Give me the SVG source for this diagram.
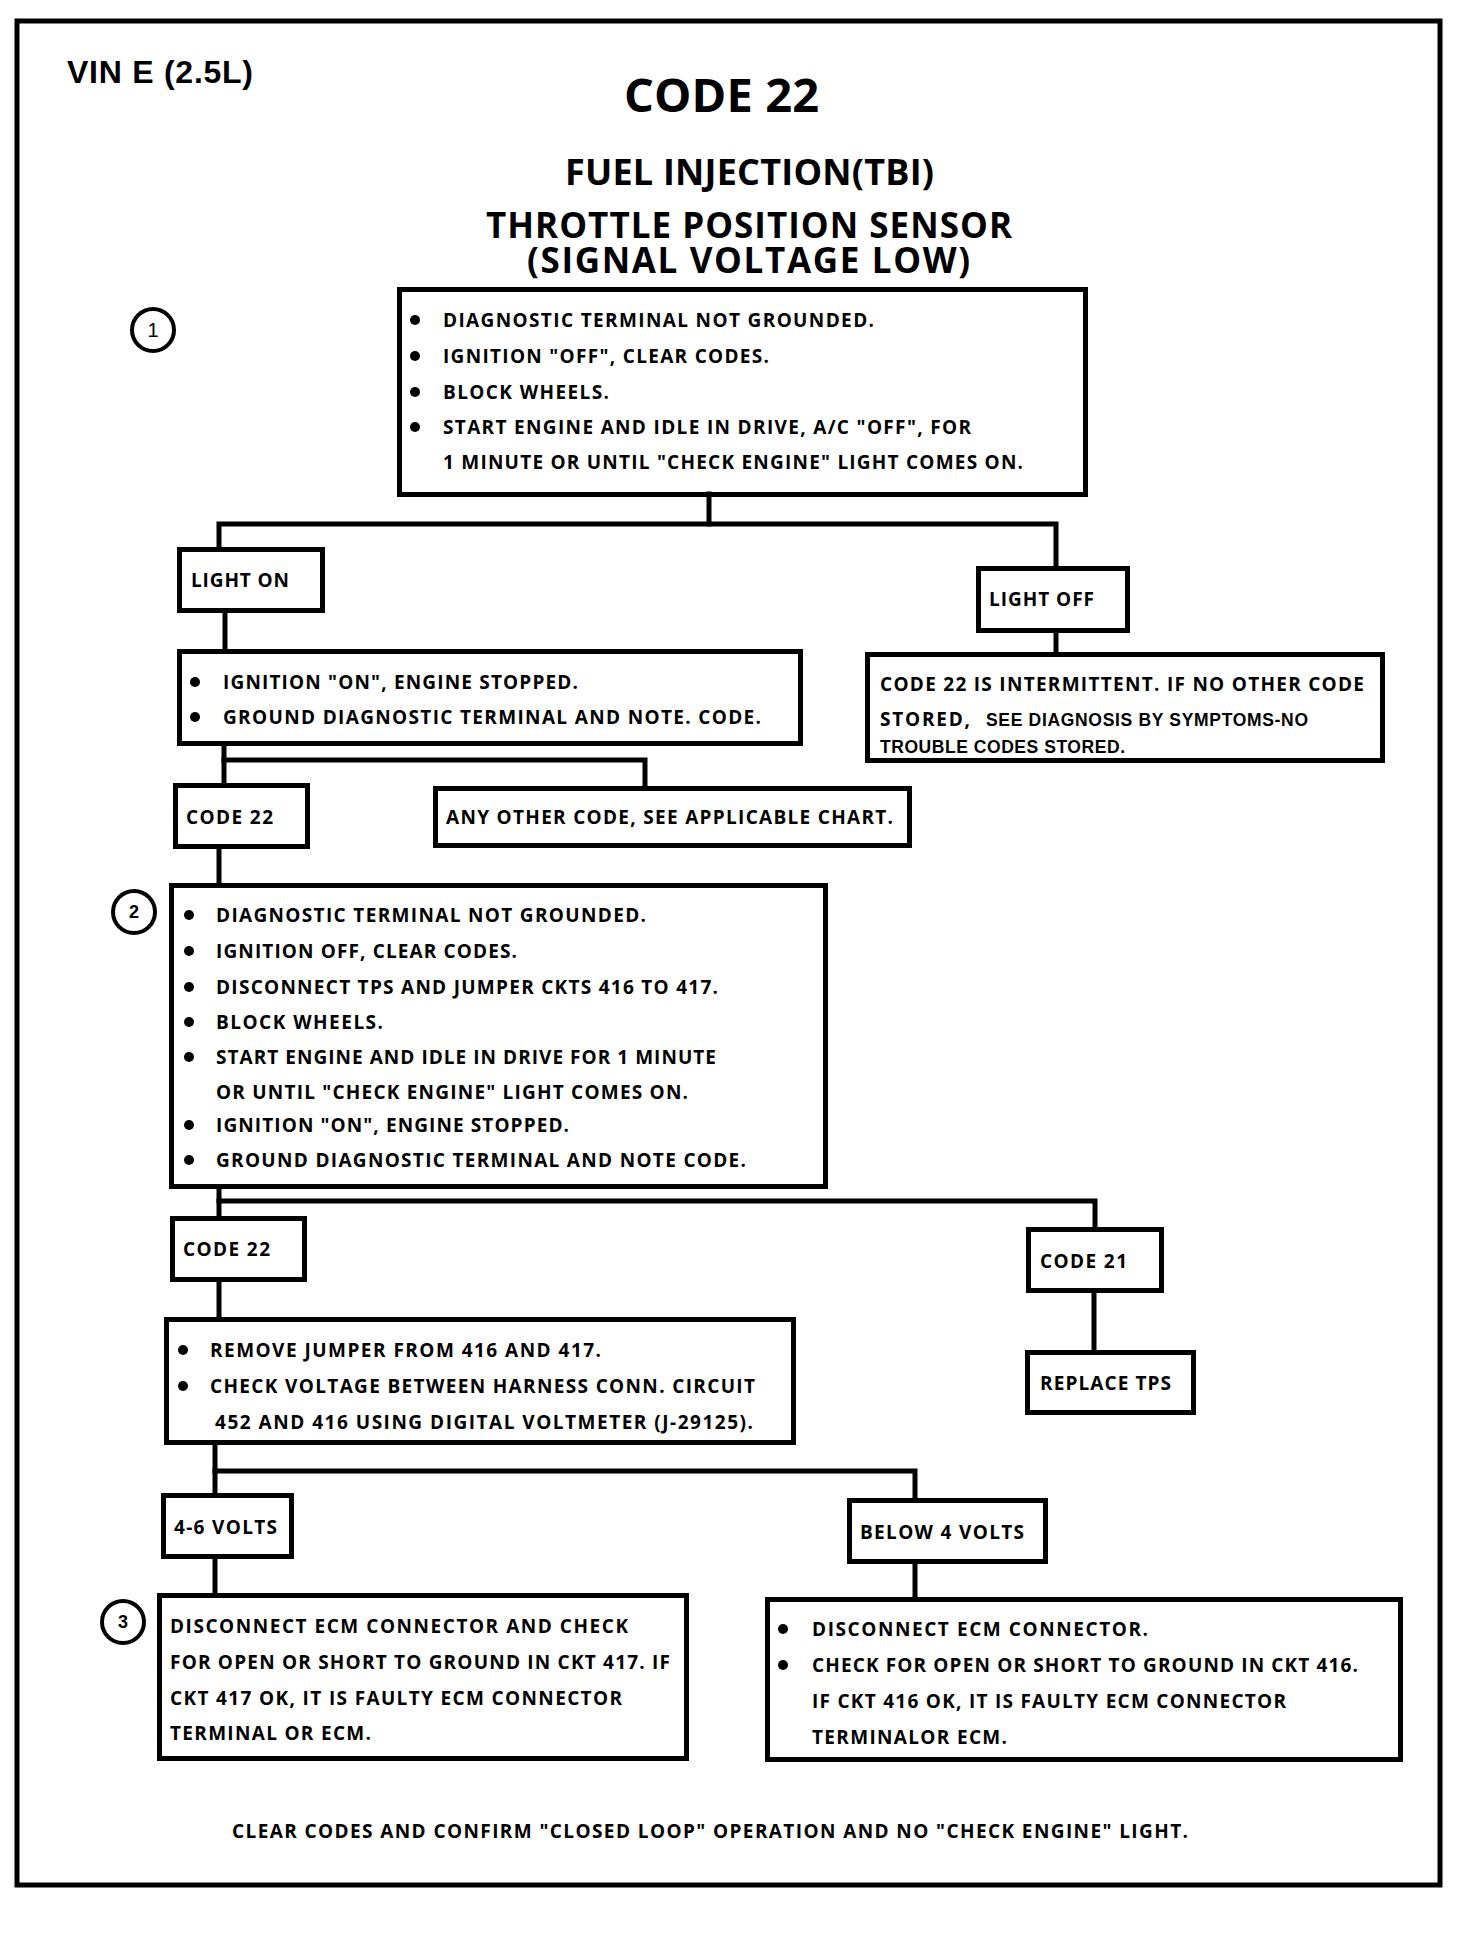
<svg xmlns="http://www.w3.org/2000/svg" width="1472" height="1942" viewBox="0 0 1472 1942">
<style>
.box{fill:none;stroke:#000;stroke-width:5}
.ln{fill:none;stroke:#000;stroke-width:5;stroke-linecap:square}
.t{font-family:"Open Sans","Noto Sans","DejaVu Sans",sans-serif;font-weight:bold;font-size:19px;fill:#000}
.a{font-family:"Liberation Sans",Arial,sans-serif;font-weight:bold;fill:#000}
.h{font-family:"Open Sans","Noto Sans","DejaVu Sans",sans-serif;font-weight:bold;fill:#000}
.c{fill:none;stroke:#000;stroke-width:4}
.b{fill:#000}
</style>
<rect width="1472" height="1942" fill="#fff"/>
<rect id="frame" x="17" y="21" width="1423" height="1864" class="box"/>

<g id="header">
<text class="a" x="67" y="83" font-size="32" textLength="186">VIN E (2.5L)</text>
<text class="h" x="624" y="112" font-size="47" textLength="195">CODE 22</text>
<text class="h" x="565" y="185" font-size="36" textLength="369">FUEL INJECTION(TBI)</text>
<text class="h" x="486" y="238" font-size="35" textLength="526">THROTTLE POSITION SENSOR</text>
<text class="h" x="527" y="273" font-size="35" textLength="443">(SIGNAL VOLTAGE LOW)</text>
</g>

<g id="connectors">
<polyline class="ln" points="709,494 709,524"/>
<polyline class="ln" points="219,547 219,524 1056,524 1056,566"/>
<polyline class="ln" points="225,613 225,650"/>
<polyline class="ln" points="1056,633 1056,652"/>
<polyline class="ln" points="224,746 224,783"/>
<polyline class="ln" points="224,760 645,760 645,786"/>
<polyline class="ln" points="219,849 219,885"/>
<polyline class="ln" points="219,1189 219,1216"/>
<polyline class="ln" points="219,1201 1095,1201 1095,1227"/>
<polyline class="ln" points="1094,1293 1094,1350"/>
<polyline class="ln" points="219,1282 219,1317"/>
<polyline class="ln" points="215,1445 215,1493"/>
<polyline class="ln" points="215,1471 915,1471 915,1498"/>
<polyline class="ln" points="215,1559 215,1593"/>
<polyline class="ln" points="915,1564 915,1597"/>
</g>

<g id="step1">
<circle class="c" cx="153" cy="330" r="21"/>
<text class="a" x="153" y="337" font-size="20" font-weight="normal" text-anchor="middle" style="font-weight:normal">1</text>
</g>

<g id="box1">
<rect class="box" x="399.5" y="289.5" width="686" height="205"/>
<circle class="b" cx="415" cy="320" r="5"/>
<circle class="b" cx="415" cy="356" r="5"/>
<circle class="b" cx="415" cy="392" r="5"/>
<circle class="b" cx="415" cy="427" r="5"/>
<text class="t" x="443" y="327" textLength="431">DIAGNOSTIC TERMINAL NOT GROUNDED.</text>
<text class="t" x="443" y="363" textLength="326">IGNITION "OFF", CLEAR CODES.</text>
<text class="t" x="443" y="399" textLength="166">BLOCK WHEELS.</text>
<text class="t" x="443" y="434" textLength="528">START  ENGINE AND IDLE IN DRIVE, A/C "OFF",  FOR</text>
<text class="t" x="443" y="469" textLength="580">1 MINUTE OR UNTIL "CHECK ENGINE" LIGHT COMES ON.</text>
</g>

<g id="lighton">
<rect class="box" x="179.5" y="549.5" width="143" height="61"/>
<text class="t" x="191" y="587" textLength="98">LIGHT ON</text>
</g>

<g id="lightoff">
<rect class="box" x="978.5" y="568.5" width="149" height="62"/>
<text class="t" x="989" y="606" textLength="105">LIGHT OFF</text>
</g>

<g id="ignition">
<rect class="box" x="179.5" y="651.5" width="621" height="92"/>
<circle class="b" cx="195" cy="682" r="5"/>
<circle class="b" cx="195" cy="717" r="5"/>
<text class="t" x="223" y="689" textLength="355">IGNITION "ON", ENGINE STOPPED.</text>
<text class="t" x="223" y="724" textLength="538">GROUND DIAGNOSTIC TERMINAL AND NOTE. CODE.</text>
</g>

<g id="intermittent">
<rect class="box" x="867.5" y="654.5" width="515" height="106"/>
<text class="t" x="880" y="691" textLength="484">CODE 22 IS INTERMITTENT.  IF NO OTHER CODE</text>
<text class="t" x="880" y="726" textLength="90">STORED,</text>
<text class="a" x="986" y="726" font-size="17.5" textLength="322">SEE DIAGNOSIS BY SYMPTOMS-NO</text>
<text class="a" x="880" y="753" font-size="17.5" textLength="245">TROUBLE CODES STORED.</text>
</g>

<g id="code22a">
<rect class="box" x="175.5" y="785.5" width="132" height="61"/>
<text class="t" x="186" y="824" textLength="87">CODE 22</text>
</g>

<g id="anyother">
<rect class="box" x="435.5" y="788.5" width="474" height="57"/>
<text class="t" x="446" y="824" textLength="447">ANY OTHER CODE, SEE APPLICABLE CHART.</text>
</g>

<g id="step2">
<circle class="c" cx="134" cy="912" r="21"/>
<text class="a" x="134" y="918" font-size="18" text-anchor="middle">2</text>
</g>

<g id="box2">
<rect class="box" x="171.5" y="885.5" width="654" height="301"/>
<circle class="b" cx="189" cy="915" r="5"/>
<circle class="b" cx="189" cy="951" r="5"/>
<circle class="b" cx="189" cy="987" r="5"/>
<circle class="b" cx="189" cy="1022" r="5"/>
<circle class="b" cx="189" cy="1057" r="5"/>
<circle class="b" cx="189" cy="1125" r="5"/>
<circle class="b" cx="189" cy="1160" r="5"/>
<text class="t" x="216" y="922" textLength="430">DIAGNOSTIC TERMINAL NOT GROUNDED.</text>
<text class="t" x="216" y="958" textLength="301">IGNITION OFF, CLEAR CODES.</text>
<text class="t" x="216" y="994" textLength="502">DISCONNECT TPS AND JUMPER CKTS 416 TO 417.</text>
<text class="t" x="216" y="1029" textLength="167">BLOCK WHEELS.</text>
<text class="t" x="216" y="1064" textLength="500">START ENGINE AND IDLE IN DRIVE FOR 1 MINUTE</text>
<text class="t" x="216" y="1099" textLength="472">OR UNTIL "CHECK ENGINE" LIGHT COMES ON.</text>
<text class="t" x="216" y="1132" textLength="353">IGNITION "ON", ENGINE STOPPED.</text>
<text class="t" x="216" y="1167" textLength="530">GROUND DIAGNOSTIC TERMINAL AND NOTE CODE.</text>
</g>

<g id="code22b">
<rect class="box" x="172.5" y="1218.5" width="132" height="61"/>
<text class="t" x="183" y="1256" textLength="87">CODE 22</text>
</g>

<g id="code21">
<rect class="box" x="1028.5" y="1229.5" width="133" height="61"/>
<text class="t" x="1040" y="1268" textLength="87">CODE 21</text>
</g>

<g id="replacetps">
<rect class="box" x="1027.5" y="1352.5" width="166" height="60"/>
<text class="t" x="1040" y="1390" textLength="131">REPLACE TPS</text>
</g>

<g id="box3">
<rect class="box" x="166.5" y="1319.5" width="627" height="123"/>
<circle class="b" cx="183" cy="1350" r="5"/>
<circle class="b" cx="183" cy="1386" r="5"/>
<text class="t" x="210" y="1357" textLength="391">REMOVE JUMPER FROM 416 AND 417.</text>
<text class="t" x="210" y="1393" textLength="545">CHECK VOLTAGE BETWEEN HARNESS CONN. CIRCUIT</text>
<text class="t" x="215" y="1429" textLength="538">452  AND 416  USING DIGITAL VOLTMETER (J-29125).</text>
</g>

<g id="volts46">
<rect class="box" x="163.5" y="1495.5" width="128" height="61"/>
<text class="t" x="174" y="1534" textLength="103">4-6 VOLTS</text>
</g>

<g id="below4">
<rect class="box" x="849.5" y="1500.5" width="196" height="61"/>
<text class="t" x="860" y="1539" textLength="164">BELOW 4 VOLTS</text>
</g>

<g id="step3">
<circle class="c" cx="123" cy="1622" r="21"/>
<text class="a" x="123" y="1628" font-size="18" text-anchor="middle">3</text>
</g>

<g id="box4">
<rect class="box" x="159.5" y="1595.5" width="527" height="163"/>
<text class="t" x="170" y="1633" textLength="458">DISCONNECT ECM  CONNECTOR AND CHECK</text>
<text class="t" x="170" y="1669" textLength="500">FOR OPEN OR SHORT TO GROUND IN CKT 417.  IF</text>
<text class="t" x="170" y="1705" textLength="452">CKT 417 OK,  IT IS FAULTY ECM CONNECTOR</text>
<text class="t" x="170" y="1740" textLength="201">TERMINAL OR ECM.</text>
</g>

<g id="box5">
<rect class="box" x="767.5" y="1599.5" width="633" height="160"/>
<circle class="b" cx="783" cy="1629" r="5"/>
<circle class="b" cx="783" cy="1665" r="5"/>
<text class="t" x="812" y="1636" textLength="336">DISCONNECT ECM  CONNECTOR.</text>
<text class="t" x="812" y="1672" textLength="546">CHECK FOR OPEN OR SHORT TO GROUND IN CKT 416.</text>
<text class="t" x="812" y="1708" textLength="474">IF CKT 416 OK,  IT IS FAULTY ECM CONNECTOR</text>
<text class="t" x="812" y="1744" textLength="195">TERMINALOR ECM.</text>
</g>

<g id="footer">
<text class="t" x="232" y="1838" textLength="956">CLEAR CODES AND CONFIRM "CLOSED LOOP"  OPERATION AND NO "CHECK ENGINE" LIGHT.</text>
</g>
</svg>
